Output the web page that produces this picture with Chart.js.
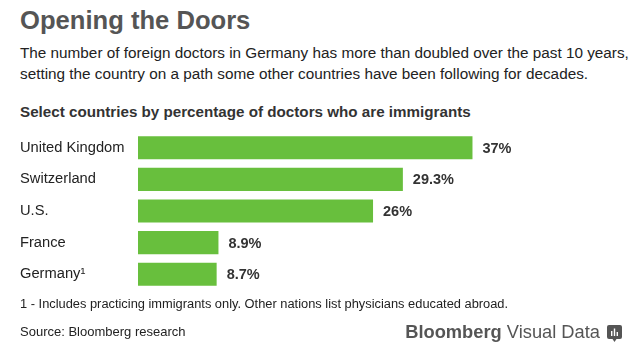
<!DOCTYPE html>
<html>
<head>
<meta charset="utf-8">
<script src="https://cdn.jsdelivr.net/npm/chart.js@4.4.1/dist/chart.umd.min.js"></script>
<style>
  html, body { margin:0; padding:0; background:#fff; }
  body { width:640px; height:358px; position:relative; overflow:hidden; font-family:"Liberation Sans", Arial, Helvetica, sans-serif; }
  .t { position:absolute; left:20px; white-space:nowrap; }
  #title { top:5px; font-size:25.6px; line-height:30px; font-weight:bold; color:#555; }
  #sub { top:42px; font-size:15.3px; line-height:21px; color:#222; }
  #head { top:101px; font-size:15.2px; line-height:21px; font-weight:bold; color:#333; }
  #note { top:295px; font-size:12.85px; line-height:18px; color:#222; }
  #src { top:323px; font-size:13px; line-height:18px; color:#222; }
  #logo { position:absolute; right:40px; top:320px; font-size:18.3px; line-height:24px; color:#555; white-space:nowrap; }
  #logo b { font-weight:bold; }
  #icon { position:absolute; left:607px; top:325px; }
  canvas { position:absolute; left:0; top:0; }
</style>
</head>
<body>
<div class="t" id="title">Opening the Doors</div>
<div class="t" id="sub">The number of foreign doctors in Germany has more than doubled over the past 10 years,<br>setting the country on a path some other countries have been following for decades.</div>
<div class="t" id="head">Select countries by percentage of doctors who are immigrants</div>
<canvas id="c" width="640" height="358"></canvas>
<div class="t" id="note">1 - Includes practicing immigrants only. Other nations list physicians educated abroad.</div>
<div class="t" id="src">Source: Bloomberg research</div>
<div id="logo"><b>Bloomberg</b> Visual Data</div>
<svg id="icon" width="15" height="18" viewBox="0 0 15 18">
  <rect x="0" y="0" width="15" height="14" rx="2" fill="#555"/>
  <path d="M5.5 14 L7.5 17 L9.5 14 Z" fill="#555"/>
  <rect x="4" y="6" width="1.4" height="5" fill="#fff"/>
  <rect x="6.8" y="3.5" width="1.4" height="7.5" fill="#fff"/>
  <rect x="9.6" y="7" width="1.4" height="4" fill="#fff"/>
</svg>
<script>
const categories = ['United Kingdom', 'Switzerland', 'U.S.', 'France', 'Germany\u00B9'];
const values = [37, 29.3, 26, 8.9, 8.7];
const valueLabels = ['37%', '29.3%', '26%', '8.9%', '8.7%'];

const FONT = '"Liberation Sans", Arial, Helvetica, sans-serif';

const valueLabelPlugin = {
  id: 'valueLabels',
  afterDatasetsDraw(chart) {
    const ctx = chart.ctx;
    const meta = chart.getDatasetMeta(0);
    ctx.save();
    ctx.font = 'bold 14.5px ' + FONT;
    ctx.fillStyle = '#333';
    ctx.textAlign = 'left';
    ctx.textBaseline = 'middle';
    meta.data.forEach((bar, i) => {
      ctx.fillText(valueLabels[i], bar.x + 10, bar.y + 1);
    });
    ctx.restore();
  }
};

new Chart(document.getElementById('c'), {
  type: 'bar',
  data: {
    labels: categories,
    datasets: [{
      data: values,
      backgroundColor: '#68bf3d',
      borderWidth: 0,
      barPercentage: 0.73,
      categoryPercentage: 1
    }]
  },
  options: {
    indexAxis: 'y',
    responsive: false,
    devicePixelRatio: 1,
    animation: false,
    layout: { padding: { left: 20, top: 132, bottom: 68, right: 50 } },
    plugins: { legend: { display: false }, tooltip: { enabled: false }, title: { display: false } },
    scales: {
      x: { display: false, min: 0, max: 50 },
      y: {
        position: 'left',
        grid: { display: false },
        border: { display: false },
        ticks: { crossAlign: 'far', color: '#222', padding: 0, font: { size: 14.7, family: FONT } },
        afterFit(s) { s.width = 118; }
      }
    }
  },
  plugins: [valueLabelPlugin]
});
</script>
</body>
</html>
